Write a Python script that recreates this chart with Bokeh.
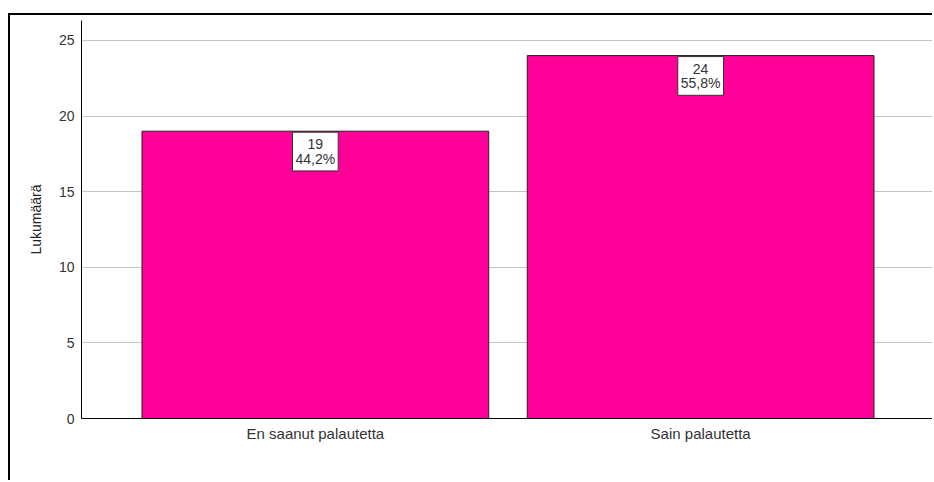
from bokeh.plotting import figure
from bokeh.models import ColumnDataSource, FactorRange, Range1d, Label, SingleIntervalTicker
from bokeh.embed import file_html
from bokeh.resources import INLINE

# Response counts per category
categories = ["En saanut palautetta", "Sain palautetta"]
counts = [19, 24]
percents = ["44,2%", "55,8%"]

source = ColumnDataSource(dict(cat=categories, count=counts))

FONT = "Liberation Sans"

p = figure(
    x_range=FactorRange(*categories, range_padding=0.107, range_padding_units="absolute"),
    y_range=Range1d(0, 26.32),
    width=924, height=467,
    output_backend="svg", toolbar_location=None,
    min_border_left=71, min_border_right=0, min_border_top=5, min_border_bottom=64,
    margin=(13, 0, 0, 8),
)
p.styles = {"border-left": "2px solid #000000", "border-top": "2px solid #000000"}
p.outline_line_color = None

p.vbar(x="cat", top="count", width=0.9, source=source,
       fill_color="#ff0099", line_color="#222222", line_width=1)

# Value boxes hanging from the top of each bar (categorical synthetic x = i + 0.5)
for i, (c, pct) in enumerate(zip(counts, percents)):
    p.add_layout(Label(
        x=i + 0.5, y=c, text=f"{c}\n{pct}",
        text_align="center", text_baseline="top", y_offset=-1,
        text_font=FONT, text_font_size="14px", text_color="#333333",
        text_line_height=0.92,
        background_fill_color="#ffffff", border_line_color="#333333", border_line_width=1,
        padding=(3, 4),
    ))

# Axes
p.yaxis.ticker = SingleIntervalTicker(interval=5)
p.yaxis.axis_label = "Lukumäärä"
p.yaxis.axis_label_text_font = FONT
p.yaxis.axis_label_text_font_style = "normal"
p.yaxis.axis_label_text_font_size = "14px"
p.yaxis.axis_label_text_color = "#222222"
p.yaxis.axis_label_standoff = 12
for ax in (p.xaxis, p.yaxis):
    ax[0].major_tick_line_color = None
    ax[0].minor_tick_line_color = None
    ax[0].axis_line_color = "#000000"
    ax[0].major_label_text_font = FONT
    ax[0].major_label_text_color = "#333333"
p.yaxis.major_label_text_font_size = "14px"
p.xaxis.major_label_text_font_size = "15px"
p.yaxis.major_label_standoff = 1
p.xaxis.major_label_standoff = 0

p.xgrid.grid_line_color = None
p.ygrid.grid_line_color = "#c4c4c4"
p.ygrid.grid_line_width = 1

open("out.html", "w").write(file_html(p, INLINE))
